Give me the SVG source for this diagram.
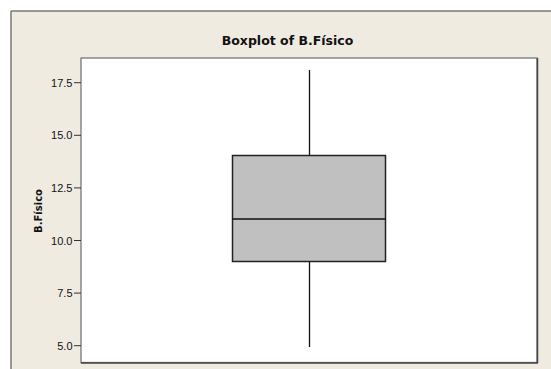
<svg xmlns="http://www.w3.org/2000/svg" width="551" height="369" viewBox="0 0 551 369">
<style>
.tick{stroke:#333;stroke-width:1}
.tl{font-family:"Liberation Sans",Arial,sans-serif;font-size:11px;fill:#111;text-anchor:end}
.ttl{font-family:"DejaVu Sans",Verdana,sans-serif;font-weight:bold;fill:#111}
.wh{stroke:#111;stroke-width:1.3}
</style>
<rect x="0" y="0" width="551" height="369" fill="#ffffff"/>
<g id="frame">
<rect x="11" y="11" width="545" height="365" fill="#efebe1"/>
<line x1="11" y1="11" x2="551" y2="11" stroke="#777" stroke-width="1.5"/>
<line x1="11" y1="11" x2="11" y2="369" stroke="#777" stroke-width="1.5"/>
</g>
<g id="title"><text class="ttl" x="287.5" y="44.5" font-size="12.5" text-anchor="middle">Boxplot of B.Físico</text></g>
<g id="plot">
<rect x="81" y="58" width="456" height="304.5" fill="#ffffff" stroke="#777" stroke-width="1.3"/>
<line x1="537.5" y1="58" x2="537.5" y2="363" stroke="#444" stroke-width="1.5"/>
<line x1="81" y1="363" x2="538" y2="363" stroke="#444" stroke-width="1.5"/>
</g>
<g id="yaxis">
<line class="tick" x1="74" y1="82.7" x2="81" y2="82.7"/>
<line class="tick" x1="74" y1="135.3" x2="81" y2="135.3"/>
<line class="tick" x1="74" y1="187.9" x2="81" y2="187.9"/>
<line class="tick" x1="74" y1="240.5" x2="81" y2="240.5"/>
<line class="tick" x1="74" y1="293.1" x2="81" y2="293.1"/>
<line class="tick" x1="74" y1="345.7" x2="81" y2="345.7"/>
<text class="tl" x="72.5" y="86.7">17.5</text>
<text class="tl" x="72.5" y="139.3">15.0</text>
<text class="tl" x="72.5" y="191.9">12.5</text>
<text class="tl" x="72.5" y="244.5">10.0</text>
<text class="tl" x="72.5" y="297.1">7.5</text>
<text class="tl" x="72.5" y="349.7">5.0</text>
<text class="ttl" font-size="10" text-anchor="middle" transform="translate(41.5,211) rotate(-90)">B.Físico</text>
</g>
<g id="connectors">
<line class="wh" x1="309.5" y1="70" x2="309.5" y2="155.5"/>
<line class="wh" x1="309.5" y1="261.5" x2="309.5" y2="347"/>
</g>
<g id="box">
<rect x="232.5" y="155.5" width="153" height="106" fill="#c0c0c0" stroke="#222" stroke-width="1.5"/>
<line x1="232.5" y1="219" x2="385.5" y2="219" stroke="#111" stroke-width="1.5"/>
</g>
</svg>
